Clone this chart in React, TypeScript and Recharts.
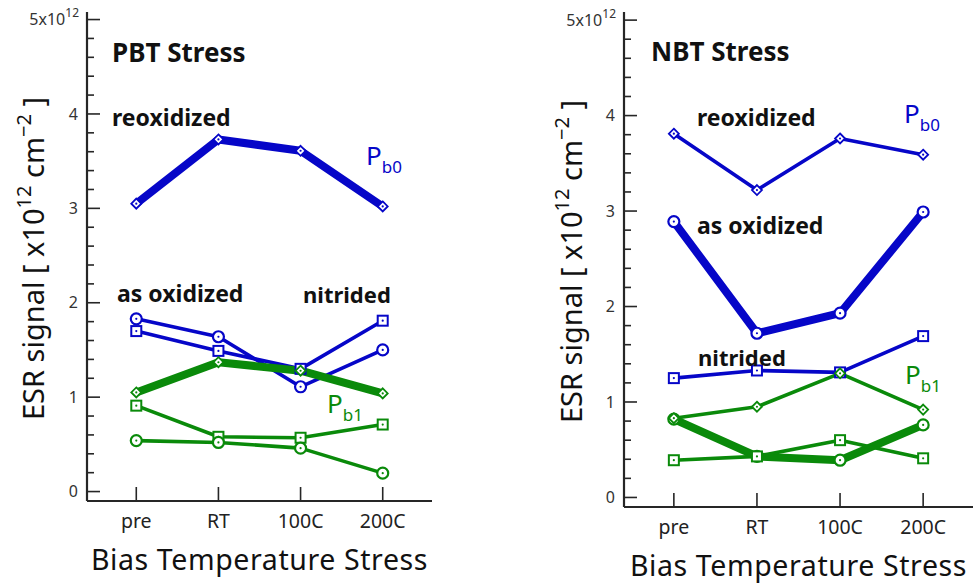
import React from 'react';
import { LineChart, Line, XAxis, YAxis, Label } from 'recharts';

// Stress conditions along the x axis
const categories = ['pre', 'RT', '100C', '200C'];

// PBT stress: Pb0 centers
const pbtReoxidizedPb0 = [3.05, 3.73, 3.61, 3.02];
const pbtAsOxidizedPb0 = [1.83, 1.64, 1.11, 1.5];
const pbtNitridedPb0 = [1.7, 1.49, 1.3, 1.81];
// PBT stress: Pb1 centers
const pbtReoxidizedPb1 = [1.05, 1.37, 1.28, 1.04];
const pbtAsOxidizedPb1 = [0.54, 0.52, 0.46, 0.195];
const pbtNitridedPb1 = [0.91, 0.58, 0.57, 0.71];

// NBT stress: Pb0 centers
const nbtReoxidizedPb0 = [3.81, 3.22, 3.76, 3.59];
const nbtAsOxidizedPb0 = [2.89, 1.72, 1.93, 2.99];
const nbtNitridedPb0 = [1.25, 1.33, 1.31, 1.69];
// NBT stress: Pb1 centers
const nbtReoxidizedPb1 = [0.83, 0.95, 1.3, 0.92];
const nbtAsOxidizedPb1 = [0.82, 0.43, 0.39, 0.76];
const nbtNitridedPb1 = [0.39, 0.43, 0.6, 0.41];

// Axis ticks (units of 1e12 cm^-2): majors every 1, minors every 0.2
const yTicks = Array.from({ length: 26 }, (_, i) => Math.round(i * 2) / 10);
const xTicks = [0, 1, 2, 3];

const BLUE = '#0606c8';
const GREEN = '#0a8a0a';
const AXIS = '#262626';
const TICK_TEXT = '#333';
const FONT = '"Noto Sans", "DejaVu Sans", sans-serif';

type MarkerShape = 'diamond' | 'circle' | 'square';

type SeriesDef = {
  key: string;
  values: number[];
  color: string;
  width: number;
  marker: MarkerShape;
};

const THIN = 3.6;
const THICK = 8;

const pbtSeries: SeriesDef[] = [
  { key: 'reoxPb0', values: pbtReoxidizedPb0, color: BLUE, width: THICK, marker: 'diamond' },
  { key: 'asoxPb0', values: pbtAsOxidizedPb0, color: BLUE, width: THIN, marker: 'circle' },
  { key: 'nitPb0', values: pbtNitridedPb0, color: BLUE, width: THIN, marker: 'square' },
  { key: 'reoxPb1', values: pbtReoxidizedPb1, color: GREEN, width: THICK, marker: 'diamond' },
  { key: 'nitPb1', values: pbtNitridedPb1, color: GREEN, width: THIN, marker: 'square' },
  { key: 'asoxPb1', values: pbtAsOxidizedPb1, color: GREEN, width: THIN, marker: 'circle' },
];

const nbtSeries: SeriesDef[] = [
  { key: 'reoxPb0', values: nbtReoxidizedPb0, color: BLUE, width: THIN, marker: 'diamond' },
  { key: 'asoxPb0', values: nbtAsOxidizedPb0, color: BLUE, width: THICK, marker: 'circle' },
  { key: 'nitPb0', values: nbtNitridedPb0, color: BLUE, width: THIN, marker: 'square' },
  { key: 'asoxPb1', values: nbtAsOxidizedPb1, color: GREEN, width: THICK, marker: 'circle' },
  { key: 'nitPb1', values: nbtNitridedPb1, color: GREEN, width: THIN, marker: 'square' },
  { key: 'reoxPb1', values: nbtReoxidizedPb1, color: GREEN, width: THIN, marker: 'diamond' },
];

const buildRows = (series: SeriesDef[]) =>
  categories.map((_, i) => {
    const row: Record<string, number> = { x: i };
    series.forEach((s) => {
      row[s.key] = s.values[i];
    });
    return row;
  });

const Marker = ({ cx, cy, color, shape }: any) => {
  if (cx == null || cy == null) return null;
  let body: React.ReactNode;
  if (shape === 'circle') {
    body = <circle cx={cx} cy={cy} r={5.5} fill="#fff" stroke={color} strokeWidth={2.2} />;
  } else if (shape === 'square') {
    body = <rect x={cx - 5} y={cy - 5} width={10} height={10} fill="#fff" stroke={color} strokeWidth={2} />;
  } else {
    const d = 5;
    body = (
      <polygon
        points={`${cx},${cy - d} ${cx + d},${cy} ${cx},${cy + d} ${cx - d},${cy}`}
        fill="#fff"
        stroke={color}
        strokeWidth={1.8}
      />
    );
  }
  return (
    <g>
      {body}
      <circle cx={cx} cy={cy} r={1.1} fill={color} />
    </g>
  );
};

const isMajor = (v: number) => Math.abs(v - Math.round(v)) < 1e-6;

const LeftTick = ({ x, y, payload }: any) => {
  const v = payload.value;
  const major = isMajor(v);
  const edge = x + 9;
  return (
    <g>
      <line x1={edge} y1={y} x2={edge + (major ? 13 : 7)} y2={y} stroke={AXIS} strokeWidth={1.6} />
      {major && v < 5 && (
        <text x={x} y={y} dy="0.35em" textAnchor="end" fontSize={16} fill={TICK_TEXT} fontFamily={FONT}>
          {v}
        </text>
      )}
      {major && v === 5 && (
        <text x={x + 1} y={y} dy="0.35em" textAnchor="end" fontSize={16} fill={TICK_TEXT} fontFamily={FONT}>
          5x10
          <tspan fontSize={12} dy={-8}>
            12
          </tspan>
        </text>
      )}
    </g>
  );
};

const RightTick = ({ x, y, payload }: any) => {
  const major = isMajor(payload.value);
  return <line x1={x} y1={y} x2={x - (major ? 13 : 7)} y2={y} stroke={AXIS} strokeWidth={1.6} />;
};

const BottomTick = ({ x, y, payload }: any) => (
  <g>
    <line x1={x} y1={y} x2={x} y2={y - 14} stroke={AXIS} strokeWidth={1.6} />
    <text x={x} y={y + 27} textAnchor="middle" fontSize={19.5} fill="#222" fontFamily={FONT}>
      {categories[payload.value]}
    </text>
  </g>
);

const TopTick = ({ x, y }: any) => (
  <line x1={x} y1={y} x2={x} y2={y + 14} stroke={AXIS} strokeWidth={1.6} />
);

const XTitle = ({ viewBox }: any) => (
  <text
    x={viewBox.x + viewBox.width / 2}
    y={viewBox.y + 69}
    textAnchor="middle"
    fontSize={28.5}
    letterSpacing={0.6}
    fill="#111"
    fontFamily={FONT}
  >
    Bias Temperature Stress
  </text>
);

const makeYTitle = (baselineX: number) => ({ viewBox }: any) => (
  <text
    transform={`translate(${viewBox.x + baselineX}, ${viewBox.y + viewBox.height / 2 + 2}) rotate(-90)`}
    textAnchor="middle"
    fontSize={29}
    fill="#111"
    fontFamily={FONT}
  >
    ESR signal [ x10
    <tspan fontSize={20} dy={-13}>
      12
    </tspan>
    <tspan dy={13}> cm</tspan>
    <tspan fontSize={20} dy={-13}>
      −2
    </tspan>
    <tspan dy={13}> ]</tspan>
  </text>
);

type Note = { text: string; x: number; y: number; size: number };

type PanelProps = {
  left: number;
  width: number;
  yAxisWidth: number;
  xAxisHeight: number;
  marginTop: number;
  marginRight: number;
  yDomain: [number, number];
  yTitleX: number;
  series: SeriesDef[];
  notes: Note[];
  pb0: { x: number; y: number };
  pb1: { x: number; y: number };
};

const Sub = ({ x, y, color, sub }: { x: number; y: number; color: string; sub: string }) => (
  <text x={x} y={y} fill={color} fontSize={26} fontFamily={FONT}>
    P
    <tspan fontSize={17} dy={8}>
      {sub}
    </tspan>
  </text>
);

const Panel = (p: PanelProps) => {
  const rows = buildRows(p.series);
  return (
    <div style={{ position: 'absolute', left: p.left, top: 0, width: p.width, height: 585 }}>
      <LineChart
        width={p.width}
        height={585}
        data={rows}
        margin={{ top: p.marginTop, right: p.marginRight, bottom: 0, left: 0 }}
      >
        <XAxis
          xAxisId="b"
          dataKey="x"
          type="number"
          domain={[-0.6, 3.6]}
          ticks={xTicks}
          interval={0}
          height={p.xAxisHeight}
          tickSize={0}
          tickMargin={0}
          tickLine={false}
          axisLine={{ stroke: AXIS, strokeWidth: 2.2 }}
          tick={<BottomTick />}
        >
          <Label content={<XTitle />} />
        </XAxis>
        <XAxis
          xAxisId="t"
          orientation="top"
          dataKey="x"
          type="number"
          domain={[-0.6, 3.6]}
          ticks={xTicks}
          interval={0}
          height={0}
          tickSize={0}
          tickMargin={0}
          tickLine={false}
          axisLine={{ stroke: AXIS, strokeWidth: 2.2 }}
          tick={<TopTick />}
        />
        <YAxis
          yAxisId="l"
          type="number"
          domain={p.yDomain}
          ticks={yTicks}
          interval={0}
          width={p.yAxisWidth}
          tickSize={0}
          tickMargin={9}
          tickLine={false}
          axisLine={{ stroke: AXIS, strokeWidth: 2.2 }}
          tick={<LeftTick />}
        >
          <Label content={makeYTitle(p.yTitleX)} />
        </YAxis>
        <YAxis
          yAxisId="r"
          orientation="right"
          type="number"
          domain={p.yDomain}
          ticks={yTicks}
          interval={0}
          width={0}
          tickSize={0}
          tickMargin={0}
          tickLine={false}
          axisLine={{ stroke: AXIS, strokeWidth: 2.2 }}
          tick={<RightTick />}
        />
        {p.series.map((s) => (
          <Line
            key={s.key}
            xAxisId="b"
            yAxisId="l"
            type="linear"
            dataKey={s.key}
            stroke={s.color}
            strokeWidth={s.width}
            strokeLinejoin="round"
            isAnimationActive={false}
            dot={(dp: any) => <Marker key={`${s.key}-${dp.index}`} cx={dp.cx} cy={dp.cy} color={s.color} shape={s.marker} />}
            activeDot={false}
          />
        ))}
      </LineChart>
      <svg
        width={p.width}
        height={585}
        style={{ position: 'absolute', left: 0, top: 0, pointerEvents: 'none' }}
      >
        {p.notes.map((n) => (
          <text key={n.text} x={n.x} y={n.y} fontSize={n.size} fontWeight="bold" fill="#111" fontFamily={FONT}>
            {n.text}
          </text>
        ))}
        <Sub x={p.pb0.x} y={p.pb0.y} color={BLUE} sub="b0" />
        <Sub x={p.pb1.x} y={p.pb1.y} color={GREEN} sub="b1" />
      </svg>
    </div>
  );
};

export default function App() {
  return (
    <div style={{ position: 'absolute', left: 0, top: 0, width: 974, height: 585, background: '#fff' }}>
      <Panel
        left={0}
        width={440}
        yAxisWidth={87}
        xAxisHeight={84}
        marginTop={12}
        marginRight={8}
        yDomain={[-0.1, 5.08]}
        yTitleX={44}
        series={pbtSeries}
        notes={[
          { text: 'PBT Stress', x: 112, y: 62, size: 26 },
          { text: 'reoxidized', x: 112, y: 126, size: 23 },
          { text: 'as oxidized', x: 117, y: 302, size: 23 },
          { text: 'nitrided', x: 303, y: 303, size: 22 },
        ]}
        pb0={{ x: 366, y: 165 }}
        pb1={{ x: 327, y: 413 }}
      />
      <Panel
        left={490}
        width={484}
        yAxisWidth={134}
        xAxisHeight={78}
        marginTop={12}
        marginRight={1}
        yDomain={[-0.1, 5.085]}
        yTitleX={92}
        series={nbtSeries}
        notes={[
          { text: 'NBT Stress', x: 161, y: 61, size: 26 },
          { text: 'reoxidized', x: 207, y: 126, size: 23 },
          { text: 'as oxidized', x: 207, y: 234, size: 23 },
          { text: 'nitrided', x: 208, y: 366, size: 22 },
        ]}
        pb0={{ x: 414, y: 123 }}
        pb1={{ x: 415, y: 384 }}
      />
    </div>
  );
}
